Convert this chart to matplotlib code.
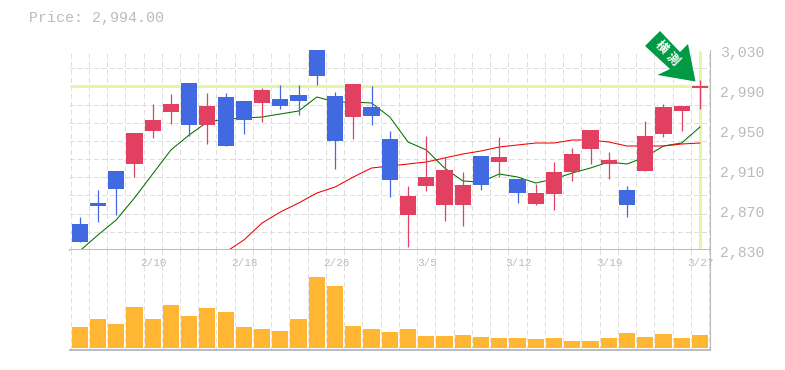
#!/usr/bin/env python3
"""Daily candlestick chart with two moving averages and a volume panel."""
import numpy as np
import matplotlib
matplotlib.use("Agg")
import matplotlib.pyplot as plt
from matplotlib.patches import Polygon
from matplotlib.transforms import ScaledTranslation

# candle values
OPEN = [2856, 2877, 2909, 2916, 2949, 2968, 2997, 2955, 2983, 2979, 2977, 2981, 2985, 3030, 2984, 2963, 2973, 2941,
        2865, 2894, 2875, 2875, 2924, 2918, 2901, 2876, 2886, 2908, 2931, 2916, 2890, 2909, 2946, 2969, 2992]
CLOSE = [2838, 2874, 2891, 2947, 2960, 2976, 2955, 2974, 2934, 2960, 2990, 2974, 2979, 3004, 2939, 2996, 2964, 2900,
         2884, 2903, 2910, 2895, 2895, 2923, 2887, 2887, 2908, 2926, 2950, 2920, 2875, 2944, 2973, 2974, 2994]
HIGH = [2863, 2890, 2909, 2947, 2976, 2986, 2997, 2987, 2987, 2979, 2992, 2995, 2995, 3030, 2988, 2996, 2994, 2949,
        2894, 2944, 2923, 2908, 2924, 2943, 2901, 2896, 2918, 2932, 2950, 2928, 2894, 2959, 2976, 2974, 3000]
LOW = [2838, 2858, 2865, 2903, 2942, 2956, 2944, 2936, 2934, 2946, 2958, 2971, 2965, 2995, 2911, 2941, 2955, 2883,
       2833, 2889, 2859, 2854, 2890, 2903, 2877, 2875, 2870, 2899, 2916, 2901, 2863, 2909, 2943, 2949, 2971]
MA_SHORT = [2829, 2845, 2860, 2882, 2906, 2930, 2945, 2958, 2961, 2962, 2963, 2966, 2969, 2983, 2978, 2978, 2977,
            2963, 2938, 2930, 2912, 2899, 2898, 2906, 2903, 2897, 2901, 2907, 2912, 2918, 2916, 2923, 2934, 2937, 2953]
MA_LONG = [2828, 2840, 2857, 2868, 2877, 2887, 2893, 2903, 2912, 2914, 2916, 2918, 2922, 2926, 2929, 2933, 2935,
           2937, 2937, 2940, 2940, 2938, 2934, 2934, 2934, 2936, 2937]
MA_LONG_START = 8
VOLUME = [21, 29, 24, 41, 29, 43, 32, 40, 36, 21, 19, 17, 29, 71, 62, 22, 19, 16, 19, 12, 12, 13, 11, 10, 10, 9, 10,
          7, 7, 10, 15, 11, 14, 10, 13]

TICK_POS = [4, 9, 14, 19, 24, 29, 34]
TICK_LABELS = ["2/10", "2/18", "2/26", "3/5", "3/12", "3/19", "3/27"]
Y_TICKS = [3030, 2990, 2950, 2910, 2870, 2830]
LAST_PRICE = 2994.0

UP_C, DOWN_C = "#E24060", "#4169E1"
VOL_C, HILITE_C, GRID_C, AXIS_C, TEXT_C = "#FFB733", "#E2F6A6", "#DDDDDD", "#BBBBBB", "#BBBBBB"
MONO = "Liberation Mono"

W, H = 785, 370
XMIN, XMAX = -0.53, 34.55


def px_axes(fig, x0, y0, x1, y1):
    return fig.add_axes([x0 / W, 1 - y1 / H, (x1 - x0) / W, (y1 - y0) / H])


fig = plt.figure(figsize=(W / 100, H / 100), dpi=100)
ax = px_axes(fig, 70, 50, 710, 250)
vol = px_axes(fig, 70, 250, 710, 350)
n = len(OPEN)
xs = np.arange(n)

# price panel
ax.set_xlim(XMIN, XMAX)
ax.set_ylim(2830, 3030)
for s in ("left", "top"):
    ax.spines[s].set_visible(False)
ax.spines["right"].set_color(AXIS_C)
ax.spines["bottom"].set_color(AXIS_C)
ax.spines["bottom"].set_linewidth(1.4)
ax.set_axisbelow(True)
ax.set_xticks(np.arange(n + 1) - 0.5, minor=True)
ax.set_yticks(np.linspace(2830, 3030, 12), minor=True)
ax.grid(which="minor", color=GRID_C, lw=1, ls=(0, (3, 2.5)), antialiased=False)
ax.tick_params(which="both", length=0)
ax.set_xticks([])
ax.set_yticks(Y_TICKS)
ax.set_yticklabels([f"{v:,}" for v in Y_TICKS], family=MONO, fontsize=10.7, color=TEXT_C, va="center")
ax.yaxis.tick_right()
ax.tick_params(axis="y", which="major", pad=7)
shift = ScaledTranslation(0, -2.5 / 100, fig.dpi_scale_trans)
for lab in ax.get_yticklabels():
    lab.set_transform(lab.get_transform() + shift)

ax.hlines(LAST_PRICE, XMIN, n - 0.5, color=HILITE_C, lw=2.2, zorder=1.5)
ax.vlines(n - 1, 2831, 3029, color=HILITE_C, lw=2.2, zorder=1.5)
ax.plot(xs, MA_SHORT, color="#007000", lw=0.75, zorder=2)
ax.plot(xs[MA_LONG_START:], MA_LONG, color="#F00000", lw=0.75, zorder=2)

colors = [UP_C if c >= o else DOWN_C for o, c in zip(OPEN, CLOSE)]
ax.vlines(xs, LOW, HIGH, colors=colors, lw=0.9, zorder=3)
tops = np.maximum(OPEN, CLOSE)
bots = np.minimum(OPEN, CLOSE)
ax.bar(xs, tops - bots, bottom=bots, width=16.2 / 18.23, color=colors, zorder=3, antialiased=False)

# volume panel
vol.set_xlim(XMIN, XMAX)
vol.set_ylim(-2, 98)
for s in ("left", "top"):
    vol.spines[s].set_visible(False)
vol.spines["right"].set_color(AXIS_C)
vol.spines["bottom"].set_color(AXIS_C)
vol.spines["bottom"].set_linewidth(1.4)
vol.set_axisbelow(True)
vol.set_xticks(np.arange(n + 1) - 0.5, minor=True)
vol.grid(which="minor", axis="x", color=GRID_C, lw=1, ls=(0, (3, 2.5)), antialiased=False)
vol.tick_params(which="both", length=0)
vol.set_yticks([])
vol.set_xticks([])
vol.bar(xs, VOLUME, width=16.2 / 18.23, color=VOL_C, zorder=3, antialiased=False)
for p, lab in zip(TICK_POS, TICK_LABELS):
    vol.text(p + 0.05, 85.5, lab, family=MONO, fontsize=7.9, color=TEXT_C, ha="center", va="center")

fig.text(29 / W, 1 - 18 / H, f"Price: {LAST_PRICE:,.2f}", family=MONO, fontsize=10.85, color=TEXT_C, va="center")

# green marker arrow in the top right corner
over = fig.add_axes([0, 0, 1, 1], facecolor="none")
over.set_xlim(0, W)
over.set_ylim(H, 0)
over.axis("off")
ARROW = [(660, 31), (645, 46), (670, 69), (657.5, 75), (695.5, 81.5), (688, 44), (680, 52)]
over.add_patch(Polygon(ARROW, closed=True, color="#009944", lw=0))
over.text(661.5, 47.5, "横", family=["Noto Sans CJK JP", "DejaVu Sans"], fontsize=9, fontweight="bold", color="white",
          rotation=-45, ha="center", va="center")
over.text(672.5, 59, "測", family=["Noto Sans CJK JP", "DejaVu Sans"], fontsize=9, fontweight="bold", color="white",
          rotation=-45, ha="center", va="center")

fig.savefig("out.png", dpi=100)
print("wrote out.png")
